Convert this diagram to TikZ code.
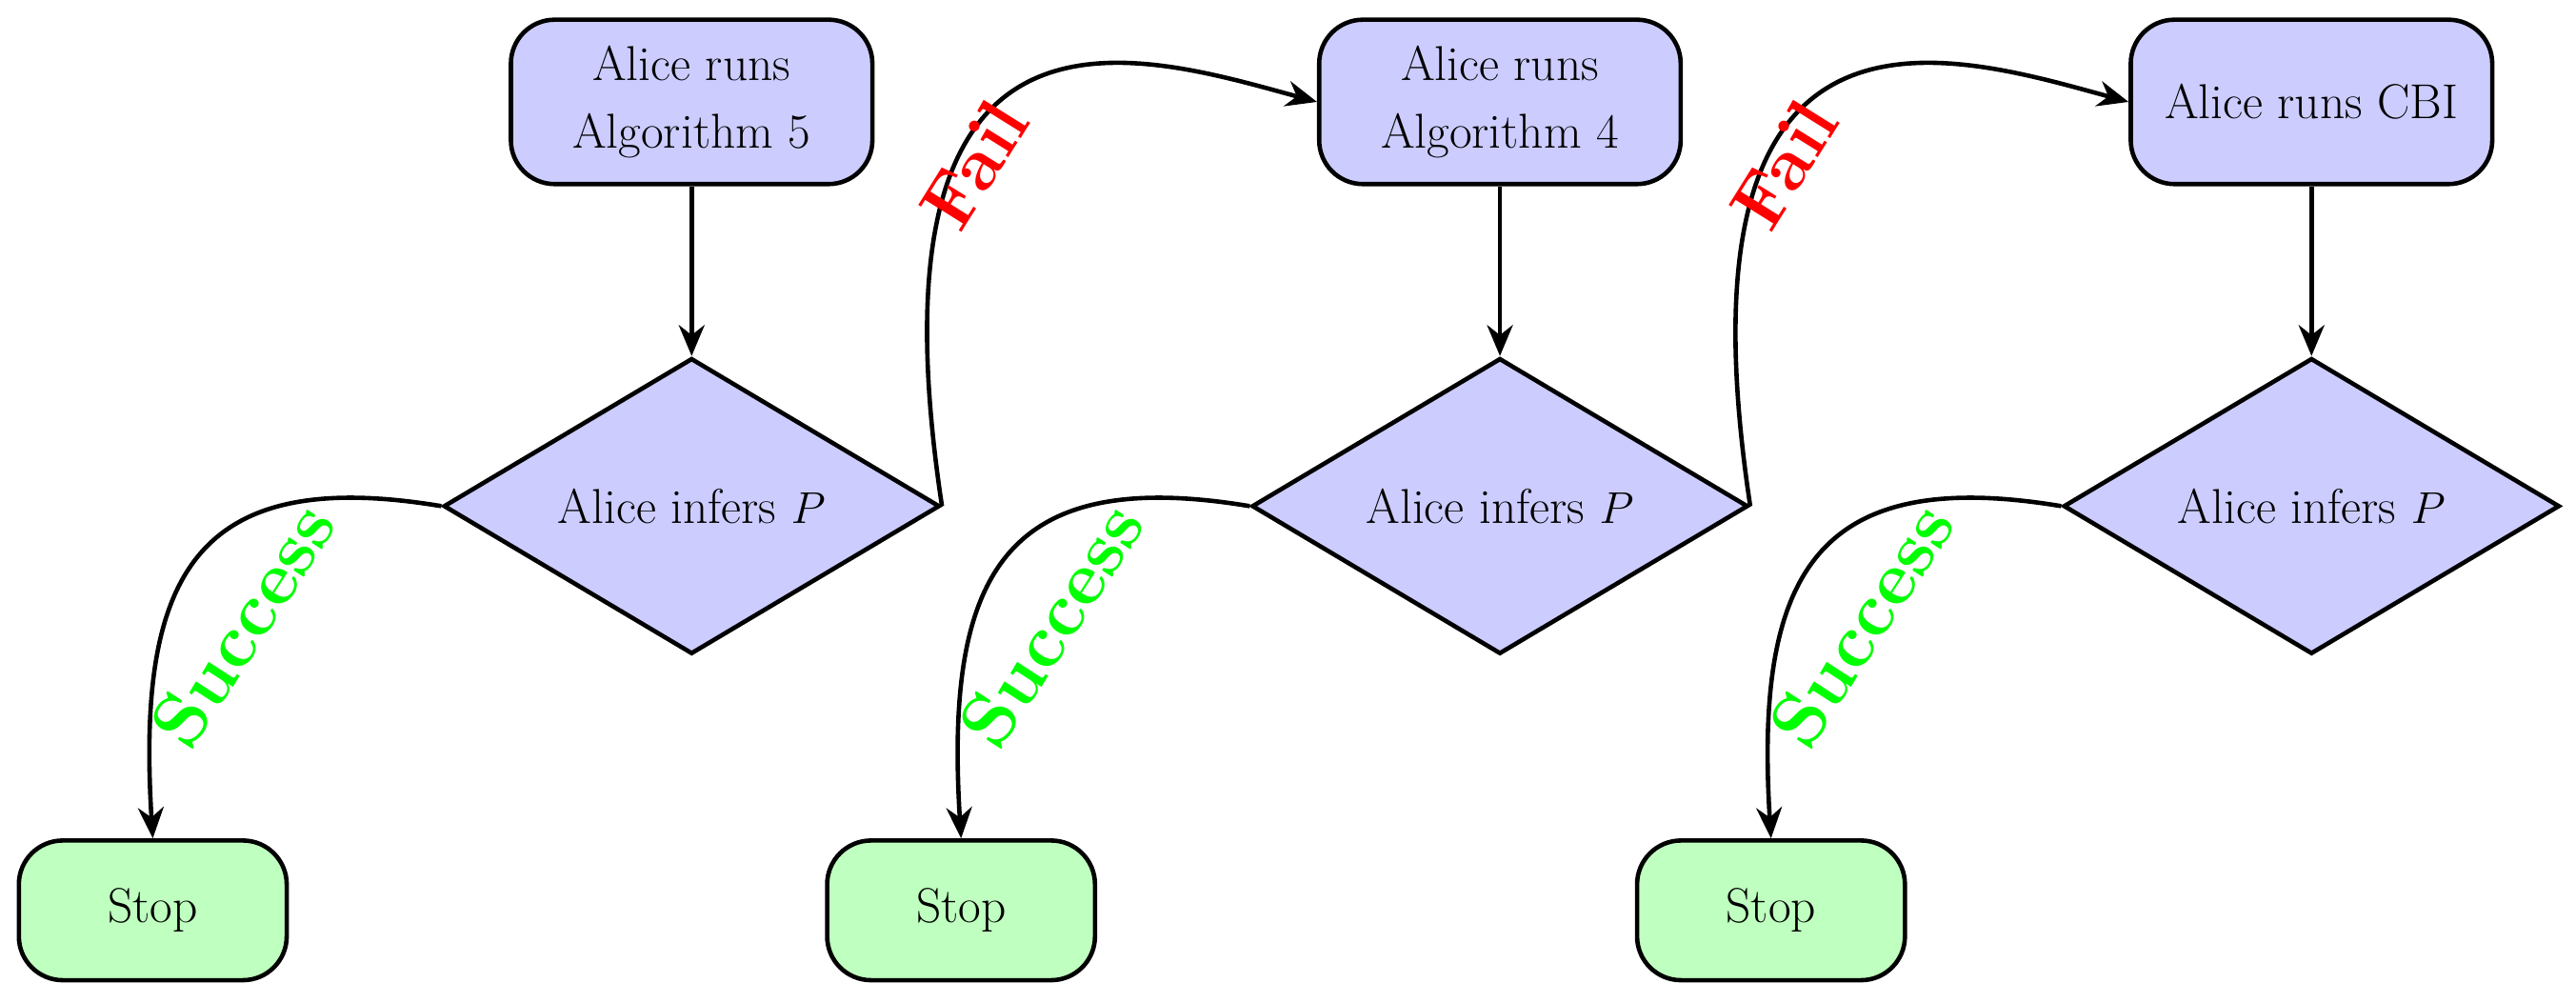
\documentclass[tikz,border=0pt]{standalone}
\usetikzlibrary{shapes.geometric,arrows.meta}
\begin{document}
\begin{tikzpicture}[x=0.0224cm,y=-0.0224cm,line width=1.7pt,>={Stealth[length=12pt,width=10pt]},
 every node/.style={font=\fontsize{19}{26}\selectfont},
 proc/.style={draw,rounded corners=17pt,fill=blue!20,minimum width=4.929cm,minimum height=2.241cm,align=center},
 dec/.style={draw,diamond,fill=blue!20,aspect=1.68,minimum width=6.766cm,minimum height=4.033cm,inner sep=0pt},
 stop/.style={draw,rounded corners=17pt,fill=green!25,minimum width=3.652cm,minimum height=1.904cm},
 lab/.style={font=\fontsize{29}{34}\selectfont\bfseries}]
\useasboundingbox (0,0) rectangle (1568,610);
\foreach \i/\x/\s/\t in {1/421/93/{Alice runs\\Algorithm 5},2/913/585/{Alice runs\\Algorithm 4},3/1407/1078/{Alice runs CBI}}{
 \node[proc] (r\i) at (\x,62) {\t};
 \node[dec] (d\i) at (\x,308) {Alice infers $P$};
 \node[stop] (s\i) at (\s,554) {Stop};
 \draw[->] (r\i) -- (d\i);
 \draw[->] (d\i.west) .. controls +(-150,-25) and +(-10,-160) .. (s\i.north);
 \node[lab,text=green,rotate=57] (g\i) at (\s+55,380) {Success};
}
\draw[->] (d1.east) .. controls +(-50,-330) and +(-110,-30) .. (r2.west);
\draw[->] (d2.east) .. controls +(-50,-330) and +(-110,-30) .. (r3.west);
\node[lab,text=red,rotate=58] (f1) at (593,100) {Fail};
\node[lab,text=red,rotate=58] (f2) at (1086,100) {Fail};
\end{tikzpicture}
\end{document}
